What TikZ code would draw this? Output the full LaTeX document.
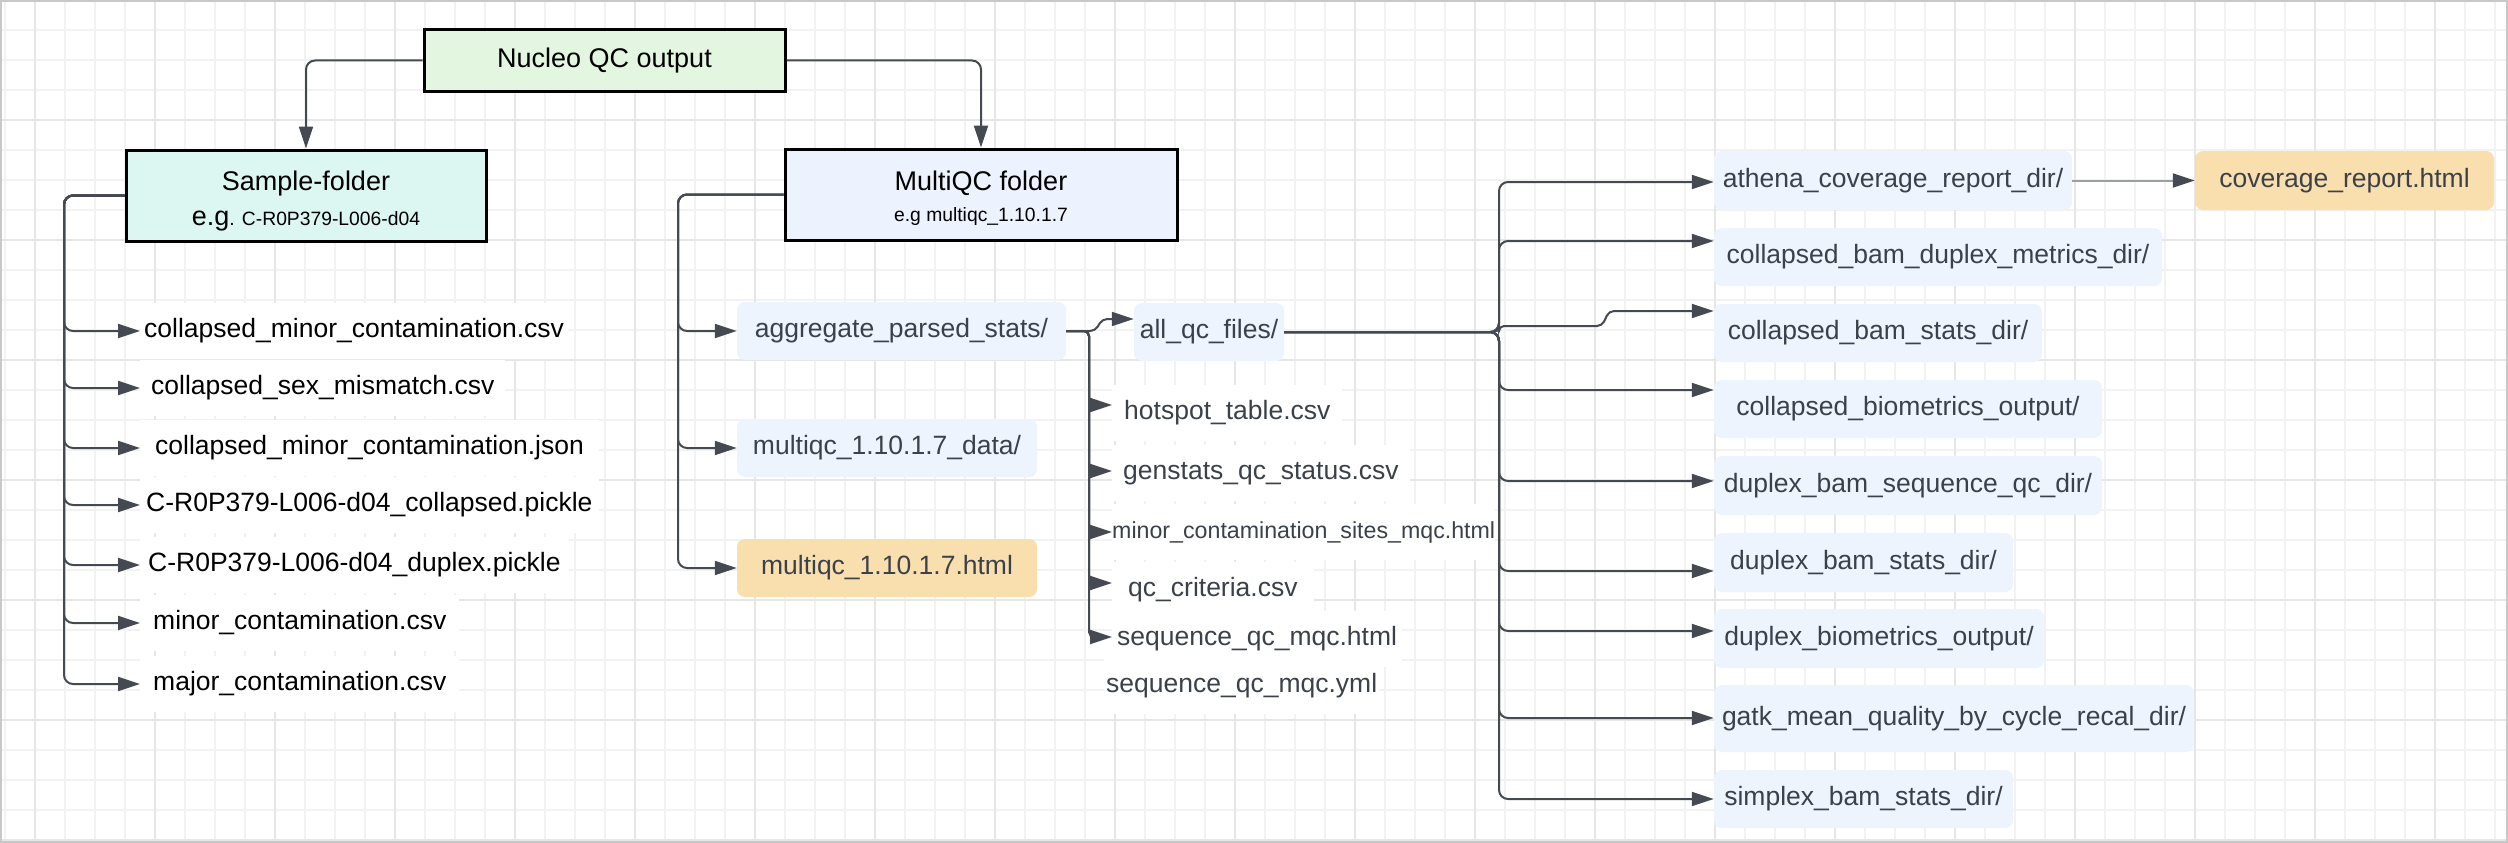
\documentclass[tikz,border=0pt]{standalone}
\usepackage{fontspec}
\setmainfont{Liberation Sans}
\usetikzlibrary{arrows.meta,calc}
\definecolor{linec}{HTML}{454A52}
\definecolor{lightline}{HTML}{9A9FA5}
\definecolor{txtc}{HTML}{3B414A}
\definecolor{greenf}{HTML}{E3F6E0}
\definecolor{tealf}{HTML}{DCF6F2}
\definecolor{multif}{HTML}{EDF3FE}
\definecolor{bluef}{HTML}{EDF4FE}
\definecolor{orangef}{HTML}{F9DFAE}
\definecolor{gridmin}{HTML}{F2F2F2}
\definecolor{gridmaj}{HTML}{E6E6E6}
\definecolor{bordc}{HTML}{C8C8C8}
\newcommand{\FMain}{\fontsize{26.5}{32}\selectfont}
\newcommand{\FTitle}{\fontsize{27}{35}\selectfont}
\newcommand{\FTitleB}{\fontsize{27}{31}\selectfont}
\newcommand{\FSub}{\fontsize{19.3}{31}\selectfont}
\newcommand{\FSubB}{\fontsize{19.3}{35}\selectfont}
\newcommand{\FMid}{\fontsize{23.2}{30}\selectfont}
\begin{document}
\begin{tikzpicture}[x=1pt,y=-1pt,
  gridminor/.style={draw=gridmin, line width=1.3pt},
  gridmajor/.style={draw=gridmaj, line width=1.6pt},
  conn/.style={draw=linec, line width=2pt, rounded corners=9pt, -{Triangle[length=22pt,width=14pt]}},
  connlight/.style={draw=lightline, line width=2pt, -{Triangle[length=22pt,width=14pt,color=linec]}},
  bigbox/.style={draw=black, line width=3pt, inner sep=0pt},
  boxtext/.style={inner sep=0pt, align=center, text=black},
  bluebox/.style={fill=bluef, rounded corners=8pt, inner sep=0pt, text=txtc, font=\FMain},
  orangebox/.style={bluebox, fill=orangef},
  leftfile/.style={fill=white, anchor=west, inner ysep=15pt, text=black, font=\FMain, text height=19pt, text depth=6.5pt},
  midfile/.style={leftfile, text=txtc},
]
\useasboundingbox (0,0) rectangle (2508,843);
% background grid
\fill[white] (0,0) rectangle (2508,843);
\foreach \i in {0,...,83} \draw[gridminor] (5+30*\i,0) -- (5+30*\i,843);
\foreach \j in {1,...,28} \draw[gridminor] (0,30*\j) -- (2508,30*\j);
\foreach \i in {0,...,20} \draw[gridmajor] (35+120*\i,0) -- (35+120*\i,843);
\foreach \j in {1,...,7} \draw[gridmajor] (0,120*\j) -- (2508,120*\j);
\draw[draw=bordc, line width=2pt] (1,1) rectangle (2507,842);

% top level boxes
\node[bigbox, fill=greenf, minimum width=361pt, minimum height=61pt, align=center, font=\FTitle] (nucleo) at (604.5,60.5) {Nucleo QC output};
\node[bigbox, fill=tealf, minimum width=360pt, minimum height=91pt] (sample) at (306,195.5) {};
\node[boxtext, font=\FTitle] (sampletxt) at ([yshift=-6pt]sample.center) {Sample-folder\\e.g{\FSubB. C-R0P379-L006-d04}};
\node[bigbox, fill=multif, minimum width=392pt, minimum height=91pt] (multi) at (981,194.5) {};
\node[boxtext, font=\FTitleB] (multitxt) at ([yshift=-4pt]multi.center) {MultiQC folder\\{\FSub e.g multiqc\_1.10.1.7}};

% sample folder files
\node[leftfile, inner xsep=4pt] (l1) at (140,331) {collapsed\_minor\_contamination.csv};
\node[leftfile, inner xsep=11pt] (l2) at (140,388) {collapsed\_sex\_mismatch.csv};
\node[leftfile, inner xsep=15pt] (l3) at (140,448) {collapsed\_minor\_contamination.json};
\node[leftfile, inner xsep=6pt] (l4) at (140,505) {C-R0P379-L006-d04\_collapsed.pickle};
\node[leftfile, inner xsep=8pt] (l5) at (140,565) {C-R0P379-L006-d04\_duplex.pickle};
\node[leftfile, inner xsep=13pt] (l6) at (140,623) {minor\_contamination.csv};
\node[leftfile, inner xsep=13pt] (l7) at (140,684) {major\_contamination.csv};

% multiqc children
\node[bluebox, minimum width=329pt, minimum height=58pt] (agg) at (901.5,331) {aggregate\_parsed\_stats/};
\node[bluebox, minimum width=300pt, minimum height=58pt] (mdata) at (887,448) {multiqc\_1.10.1.7\_data/};
\node[orangebox, minimum width=300pt, minimum height=58pt] (mhtml) at (887,568) {multiqc\_1.10.1.7.html};
\node[bluebox, minimum width=150pt, minimum height=58pt] (allqc) at (1209,332) {all\_qc\_files/};

% aggregate files
\node[midfile, inner xsep=12pt] (m1) at (1112,413) {hotspot\_table.csv};
\node[midfile, inner xsep=11pt] (m2) at (1112,473) {genstats\_qc\_status.csv};
\node[midfile, inner xsep=0pt, font=\FMid] (m3) at (1112,532) {minor\_contamination\_sites\_mqc.html};
\node[midfile, inner xsep=16pt] (m4) at (1112,590) {qc\_criteria.csv};
\node[midfile, inner xsep=5pt] (m5) at (1112,639) {sequence\_qc\_mqc.html};
\node[midfile, inner xsep=2pt] (m6) at (1104,686) {sequence\_qc\_mqc.yml};

% all_qc_files children
\node[bluebox, minimum width=358pt, minimum height=59pt] (athena) at (1893,180.5) {athena\_coverage\_report\_dir/};
\node[orangebox, minimum width=299pt, minimum height=59pt] (cov) at (2344.5,180.5) {coverage\_report.html};
\node[bluebox, minimum width=448pt, minimum height=58pt] (cbdm) at (1938,257) {collapsed\_bam\_duplex\_metrics\_dir/};
\node[bluebox, minimum width=328pt, minimum height=58pt] (cbs) at (1878,333) {collapsed\_bam\_stats\_dir/};
\node[bluebox, minimum width=388pt, minimum height=58pt] (cbo) at (1908,409) {collapsed\_biometrics\_output/};
\node[bluebox, minimum width=388pt, minimum height=59pt] (dbsq) at (1908,485.5) {duplex\_bam\_sequence\_qc\_dir/};
\node[bluebox, minimum width=299pt, minimum height=59pt] (dbs) at (1863.5,562.5) {duplex\_bam\_stats\_dir/};
\node[bluebox, minimum width=330pt, minimum height=59pt] (dbo) at (1879,638.5) {duplex\_biometrics\_output/};
\node[bluebox, minimum width=480pt, minimum height=67pt] (gatk) at (1954,718.5) {gatk\_mean\_quality\_by\_cycle\_recal\_dir/};
\node[bluebox, minimum width=299pt, minimum height=58pt] (sbs) at (1863.5,799) {simplex\_bam\_stats\_dir/};

% trunk coordinates
\coordinate (lt) at (64,195.5);
\coordinate (mt) at (678,194.5);
\coordinate (at) at (1089,331);
\coordinate (rt) at (1499,332);

% top connectors
\draw[conn] (nucleo.west) -| (sample.north);
\draw[conn] (nucleo.east) -| (multi.north);

% sample folder connectors
\foreach \n in {l1,l2,l3,l4,l5,l6,l7}
  \draw[conn] (sample.west) -| (\n.west -| lt) -- (\n.west);

% multiqc connectors
\foreach \n in {agg,mdata,mhtml}
  \draw[conn] (multi.west) -| (\n.west -| mt) -- (\n.west);

% aggregate -> all_qc_files
\coordinate (aqt) at ([yshift=13pt]allqc.west);
\draw[conn, rounded corners=5pt] (agg.east) -- ++(29,0) -- ++(7,-12) -- (aqt);

% aggregate -> files
\coordinate (m1t) at ([yshift=8pt]m1.west);
\coordinate (m2t) at ([yshift=2pt]m2.west);
\coordinate (m3t) at (m3.west);
\coordinate (m4t) at ([yshift=7pt]m4.west);
\coordinate (m5t) at ([yshift=2pt]m5.west);
\foreach \n in {m1t,m2t,m3t,m4t,m5t}
  \draw[conn, rounded corners=5pt] (agg.east) -| (\n -| at) -- (\n);

% all_qc_files -> dirs
\coordinate (t1) at ([yshift=-1.5pt]athena.west);
\coordinate (t2) at ([yshift=16pt]cbdm.west);
\coordinate (t3) at ([yshift=22pt]cbs.west);
\coordinate (t4) at ([yshift=19pt]cbo.west);
\coordinate (t5) at ([yshift=4.5pt]dbsq.west);
\coordinate (t6) at ([yshift=-8.5pt]dbs.west);
\coordinate (t7) at ([yshift=7.5pt]dbo.west);
\coordinate (t8) at ([yshift=0.5pt]gatk.west);
\coordinate (t9) at (sbs.west);
\foreach \n in {t1,t2,t4,t5,t6,t7,t8,t9}
  \draw[conn] (allqc.east) -| (\n -| rt) -- (\n);
\draw[conn, rounded corners=5pt] (allqc.east) -| (1499,326) -- (1602,326) -- (1609,311) -- (t3);

% athena -> coverage report
\draw[connlight] (athena.east) -- (cov.west);
\end{tikzpicture}
\end{document}
